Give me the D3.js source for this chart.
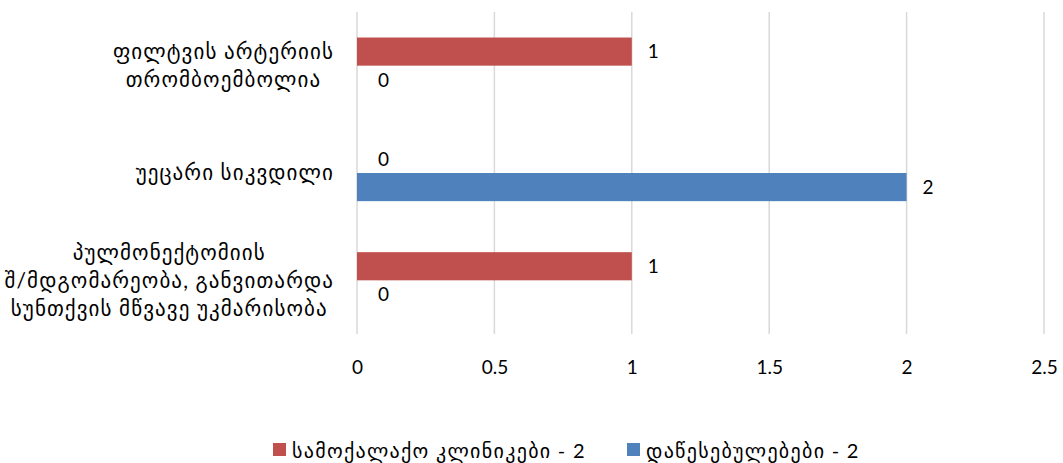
<!DOCTYPE html>
<html><head><meta charset="utf-8">
<script src="https://cdn.jsdelivr.net/npm/d3@7"></script>
<style>
html,body{margin:0;padding:0;background:#fff;}
text{font-family:Lato,"DejaVu Sans",sans-serif;fill:#000;}
</style></head><body>
<svg id="chart" width="1063" height="463"></svg>
<script>
const categories = [
  ["ფილტვის არტერიის","თრომბოემბოლია"],
  ["უეცარი სიკვდილი"],
  ["პულმონექტომიის","შ/მდგომარეობა, განვითარდა","სუნთქვის მწვავე უკმარისობა"]
];
const seriesNames = ["სამოქალაქო კლინიკები - 2","დაწესებულებები - 2"];
const seriesColors = ["#c0504d","#4f81bd"];
const clinics = [1,0,1];
const institutions = [0,2,0];
const xTicks = [0,0.5,1,1.5,2,2.5];

const svg = d3.select("#chart");
const m = {left:357, right:1044, top:12, bottom:334};
const x = d3.scaleLinear().domain([0,2.5]).range([m.left,m.right]);
const y = d3.scaleBand().domain(d3.range(categories.length)).range([m.top,m.bottom]).paddingInner(0.4753).paddingOuter(0.2377);
const ys = d3.scaleBand().domain([0,1]).range([0,y.bandwidth()]);

// gridlines
svg.append("g").selectAll("line").data(xTicks).join("line")
  .attr("x1",d=>x(d)).attr("x2",d=>x(d)).attr("y1",m.top).attr("y2",m.bottom)
  .attr("stroke","#d9d9d9").attr("stroke-width",1.5);

// x axis labels
const xa = d3.axisBottom(x).tickValues(xTicks).tickSize(0).tickPadding(0).tickFormat(d3.format("~g"));
const gx = svg.append("g").attr("transform",`translate(0,${m.bottom+26})`).call(xa);
gx.select(".domain").remove();
gx.selectAll("text").style("font-size","19px").attr("dy","0.71em").attr("font-family","Lato");

const series = [clinics, institutions];
series.forEach((vals,si)=>{
  const g = svg.append("g");
  g.selectAll("rect").data(vals).join("rect")
    .attr("x",x(0)).attr("y",(d,i)=>y(i)+ys(si))
    .attr("width",d=>x(d)-x(0)).attr("height",ys.bandwidth())
    .attr("fill",seriesColors[si]);
  g.selectAll("text").data(vals).join("text")
    .attr("x",d=>x(d)+ (d===0?21:16)).attr("y",(d,i)=>y(i)+ys(si)+ys.bandwidth()/2)
    .attr("dy","0.36em").style("font-size","19px").text(d=>d);
});

// category labels
const lineH = 28;
categories.forEach((lines,i)=>{
  const g = svg.append("g");
  const cy = y(i)+y.bandwidth()/2;
  const ts = lines.map((l,k)=>g.append("text")
    .attr("y",cy + (k-(lines.length-1)/2)*lineH)
    .attr("dy","0.35em").attr("text-anchor","middle")
    .style("font-size","21px").style("letter-spacing","1.1px").text(l));
  const w = d3.max(ts,t=>t.node().getComputedTextLength());
  ts.forEach(t=>t.attr("x",334-w/2));
});

// legend
const leg = svg.append("g");
const legX = [273,627];
seriesNames.forEach((n,i)=>{
  leg.append("rect").attr("x",legX[i]).attr("y",443).attr("width",13).attr("height",13).attr("fill",seriesColors[i]);
  leg.append("text").attr("x",legX[i]+19).attr("y",451).attr("dy","0.35em")
    .style("font-size","20px").style("letter-spacing","1.3px").text(n);
});
</script>
</body></html>
